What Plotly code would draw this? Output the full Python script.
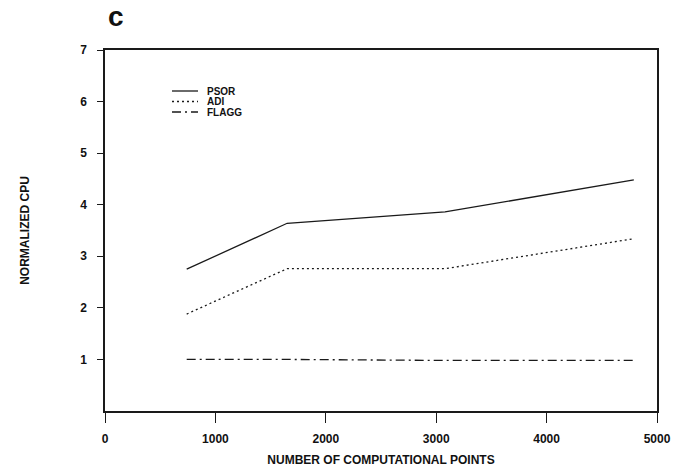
import plotly.graph_objects as go

points = [740, 1650, 3080, 4790]
psor = [2.75, 3.64, 3.86, 4.48]
adi = [1.88, 2.76, 2.76, 3.34]
flagg = [1.0, 1.0, 0.98, 0.98]

series_names = ["PSOR", "ADI", "FLAGG"]
x_ticks = [0, 1000, 2000, 3000, 4000, 5000]
y_ticks = [1, 2, 3, 4, 5, 6, 7]

FONT = "Liberation Sans"
ink = "#1a1a1a"
dashes = ["solid", "2px,3px", "9px,4px,2px,4px"]

W, H = 682, 476
L, R, T, B = 105, 25, 50, 65
PW, PH = W - L - R, H - T - B


def px(x):
    return (x - L) / PW


def py(y):
    return (H - B - y) / PH


fig = go.Figure()
for name, vals, dash in zip(series_names, [psor, adi, flagg], dashes):
    fig.add_trace(go.Scatter(x=points, y=vals, mode="lines", name=name,
                             line=dict(color=ink, width=1.3, dash=dash),
                             showlegend=False))

# manual compact legend (styling only)
shapes = []
annotations = []
leg_y = [91, 101.5, 112]
for name, dash, yy in zip(series_names, dashes, leg_y):
    shapes.append(dict(type="line", xref="paper", yref="paper",
                       x0=px(172), x1=px(198), y0=py(yy), y1=py(yy),
                       line=dict(color=ink, width=1.3, dash=dash)))
    annotations.append(dict(text=f"<b>{name}</b>", xref="paper", yref="paper",
                            x=px(205), y=py(yy), xanchor="left", yanchor="middle",
                            showarrow=False, font=dict(size=10, family=FONT, color="#111")))

annotations.append(dict(text="<b>c</b>", xref="paper", yref="paper",
                        x=px(116), y=py(17), xanchor="center", yanchor="middle",
                        showarrow=False, font=dict(size=28, family=FONT, color="#111")))

fig.update_layout(
    width=W, height=H,
    margin=dict(l=L, r=R, t=T, b=B),
    paper_bgcolor="white", plot_bgcolor="white",
    font=dict(family=FONT, size=12, color="#111111"),
    showlegend=False,
    shapes=shapes,
    annotations=annotations,
)

fig.update_xaxes(range=[0, 5000], tickvals=x_ticks,
                 ticktext=[f"<b>{v}</b>" for v in x_ticks],
                 tickfont=dict(size=12),
                 ticks="outside", ticklen=10, tickwidth=1.3, tickcolor=ink,
                 ticklabelstandoff=6,
                 showline=True, linecolor=ink, linewidth=1.5, mirror=True,
                 showgrid=False, zeroline=False,
                 title=dict(text="<b>NUMBER OF COMPUTATIONAL POINTS</b>", standoff=10,
                            font=dict(size=12)))
fig.update_yaxes(range=[0, 7], tickvals=y_ticks,
                 ticktext=[f"<b>{v}</b>" for v in y_ticks],
                 tickfont=dict(size=12),
                 ticks="outside", ticklen=6, tickwidth=1.3, tickcolor=ink,
                 ticklabelstandoff=8,
                 showline=True, linecolor=ink, linewidth=1.5, mirror=True,
                 showgrid=False, zeroline=False,
                 title=dict(text="<b>NORMALIZED CPU</b>", standoff=48,
                            font=dict(size=12)))

fig.write_html("out.html",
               config={"displayModeBar": False},
               post_script="document.body.style.margin='0';document.body.style.overflow='hidden';")
